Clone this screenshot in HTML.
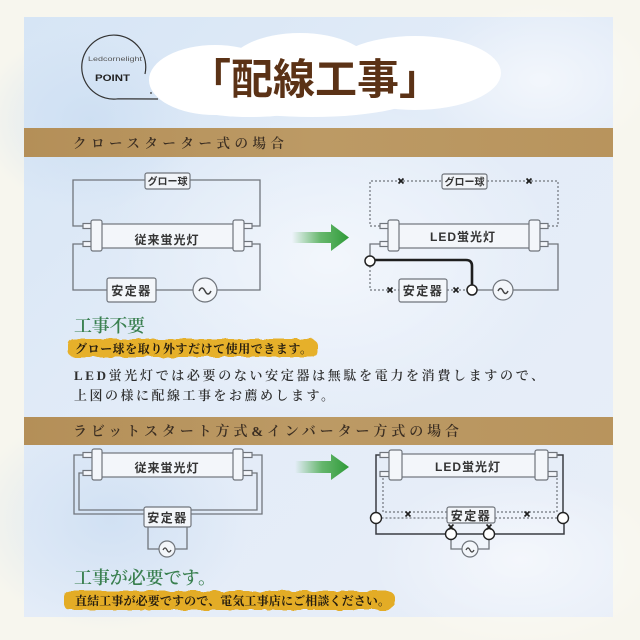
<!DOCTYPE html>
<html><head><meta charset="utf-8"><style>
html,body{margin:0;padding:0;background:#f7f6ee;}
svg{display:block;}
.jp{font-family:"Liberation Sans","Noto Sans CJK JP",sans-serif;font-weight:700;fill:#333;}
.sf{font-family:"Liberation Serif","Noto Serif CJK SC",serif;}
</style></head><body>
<svg width="640" height="640" viewBox="0 0 640 640" xmlns="http://www.w3.org/2000/svg">
<defs>
<linearGradient id="bg" x1="0" y1="0" x2="1" y2="1">
<stop offset="0" stop-color="#d6e5f5"/><stop offset="0.45" stop-color="#e3ecf8"/><stop offset="1" stop-color="#e8eef8"/>
</linearGradient>
<radialGradient id="p1" cx="0.5" cy="0.5" r="0.5"><stop offset="0" stop-color="#ffffff" stop-opacity="0.55"/><stop offset="1" stop-color="#ffffff" stop-opacity="0"/></radialGradient>
<radialGradient id="p2" cx="0.5" cy="0.5" r="0.5"><stop offset="0" stop-color="#c9dcf1" stop-opacity="0.7"/><stop offset="1" stop-color="#c9dcf1" stop-opacity="0"/></radialGradient>
<linearGradient id="ag" x1="0" x2="1" y1="0" y2="0">
<stop offset="0" stop-color="#45a84a" stop-opacity="0"/><stop offset="0.5" stop-color="#45a84a" stop-opacity="0.8"/><stop offset="1" stop-color="#2e9a37"/>
</linearGradient>
<linearGradient id="band" x1="0" x2="1" y1="0" y2="0">
<stop offset="0" stop-color="#b48f58"/><stop offset="0.5" stop-color="#bc9a65"/><stop offset="1" stop-color="#b8945d"/>
</linearGradient>
<filter id="brush" x="-5%" y="-40%" width="110%" height="180%">
<feTurbulence type="fractalNoise" baseFrequency="0.09" numOctaves="2" seed="4"/>
<feDisplacementMap in="SourceGraphic" scale="5"/>
</filter>
</defs>

<rect width="640" height="640" fill="#f7f6ee"/>
<rect x="24" y="17" width="589" height="600" fill="url(#bg)"/>
<ellipse cx="330" cy="260" rx="230" ry="160" fill="url(#p1)"/>
<ellipse cx="520" cy="560" rx="150" ry="90" fill="url(#p1)"/>
<ellipse cx="540" cy="80" rx="120" ry="80" fill="url(#p1)"/>
<ellipse cx="110" cy="520" rx="140" ry="110" fill="url(#p2)"/>
<ellipse cx="90" cy="120" rx="110" ry="90" fill="url(#p2)"/>

<!-- logo -->
<path d="M145 74 A32 32 0 1 0 118 98.8 L158 99" fill="none" stroke="#333" stroke-width="1.2"/>
<circle cx="151" cy="93" r="0.9" fill="#333"/>
<text x="88" y="61" font-family="Liberation Sans, sans-serif" font-size="6" fill="#555" textLength="54" lengthAdjust="spacingAndGlyphs">Ledcornelight</text>
<text x="95" y="81" font-family="Liberation Sans, sans-serif" font-size="9" font-weight="700" fill="#222" textLength="35" lengthAdjust="spacingAndGlyphs">POINT</text>

<!-- cloud -->
<g fill="#ffffff">
<ellipse cx="215" cy="80" rx="66" ry="35"/>
<ellipse cx="300" cy="68" rx="72" ry="35"/>
<ellipse cx="415" cy="73" rx="86" ry="37"/>
<ellipse cx="312" cy="92" rx="112" ry="25"/>
<ellipse cx="250" cy="95" rx="80" ry="22"/>
</g>
<text x="315" y="94" text-anchor="middle" font-family="Liberation Sans, 'Noto Sans CJK JP', sans-serif" font-weight="700" font-size="42" fill="#5b3216">「配線工事」</text>

<!-- band 1 -->
<rect x="24" y="128" width="589" height="29" fill="url(#band)"/>
<text class="sf" x="73" y="148" font-size="13.5" font-weight="600" fill="#3b2e22" textLength="211" lengthAdjust="spacing">クロースターター式の場合</text>

<!-- ===== Diagram 1 left ===== -->
<g fill="none" stroke="#70757c" stroke-width="1.3">
<path d="M83 226 H73 V180 H145 M190 180 H260 V226 H252"/>
<path d="M83 244 H73 V290 H107 M156 290 H193 M217 290 H260 V244 H252"/>
</g>
<rect x="145" y="173" width="45" height="16" rx="2" fill="#f1f4f8" stroke="#70757c" stroke-width="1.2"/>
<text class="jp" x="167.5" y="185" font-size="10" text-anchor="middle">グロー球</text>
<g stroke="#70757c" stroke-width="1.2" fill="#f3f6fa">
<rect x="83" y="223.5" width="9" height="5"/><rect x="83" y="241.5" width="9" height="5"/>
<rect x="243" y="223.5" width="9" height="5"/><rect x="243" y="241.5" width="9" height="5"/>
<rect x="100" y="224" width="135" height="24"/>
<rect x="91" y="220" width="11" height="31" rx="2"/>
<rect x="233" y="220" width="11" height="31" rx="2"/>
<rect x="107" y="278" width="49" height="24" rx="2"/>
<circle cx="205" cy="290" r="12"/>
</g>
<text class="jp" x="167" y="244" font-size="12" text-anchor="middle" letter-spacing="1">従来蛍光灯</text>
<text class="jp" x="131.5" y="295" font-size="12" text-anchor="middle" letter-spacing="1.5">安定器</text>
<path d="M199 291 q3 -6 6 0 t6 0" fill="none" stroke="#444" stroke-width="1.5"/>

<!-- arrow 1 -->
<polygon points="292,232 331,232 331,224 349,237.5 331,251 331,243 292,243" fill="url(#ag)"/>

<!-- ===== Diagram 1 right ===== -->
<g fill="none" stroke="#70757c" stroke-width="1.2" stroke-dasharray="2 2">
<path d="M380 226 H370 V181 H442 M487 181 H558 V226 H548"/>
<path d="M370 266 V290 H399 M447 290 H467"/>
</g>
<g fill="none" stroke="#70757c" stroke-width="1.3">
<path d="M380 244 H370 V256"/>
<path d="M477 290 H493 M513 290 H558 V244 H548"/>
</g>
<path d="M375 260 H466 Q472 260 472 266 V285" fill="none" stroke="#1e1e1e" stroke-width="2.6"/>
<rect x="442" y="174" width="45" height="15" rx="2" fill="#f1f4f8" stroke="#70757c" stroke-width="1.2"/>
<text class="jp" x="464.5" y="185.5" font-size="10" text-anchor="middle">グロー球</text>
<g stroke="#70757c" stroke-width="1.2" fill="#f3f6fa">
<rect x="380" y="223.5" width="9" height="5"/><rect x="380" y="241.5" width="9" height="5"/>
<rect x="539" y="223.5" width="9" height="5"/><rect x="539" y="241.5" width="9" height="5"/>
<rect x="397" y="224" width="134" height="24"/>
<rect x="388" y="220" width="11" height="31" rx="2"/>
<rect x="529" y="220" width="11" height="31" rx="2"/>
<rect x="399" y="279" width="48" height="23" rx="2"/>
<circle cx="503" cy="290" r="10"/>
</g>
<g fill="#fff" stroke="#222" stroke-width="1.5">
<circle cx="370" cy="261" r="5"/>
<circle cx="472" cy="290" r="5"/>
</g>
<text class="jp" x="463" y="241" font-size="12" text-anchor="middle" letter-spacing="1">LED蛍光灯</text>
<text class="jp" x="423" y="295" font-size="12" text-anchor="middle" letter-spacing="1.5">安定器</text>
<path d="M498 291 q2.5 -5 5 0 t5 0" fill="none" stroke="#444" stroke-width="1.5"/>
<g stroke="#1e1e1e" stroke-width="1.7">
<path d="M398.5 178.5 l5 5 M403.5 178.5 l-5 5"/>
<path d="M526.5 178.5 l5 5 M531.5 178.5 l-5 5"/>
<path d="M387.5 287.5 l5 5 M392.5 287.5 l-5 5"/>
<path d="M453.5 287.5 l5 5 M458.5 287.5 l-5 5"/>
</g>

<!-- texts section 1 -->
<text class="sf" x="74" y="332" font-size="18" font-weight="600" fill="#3a8050" textLength="71" lengthAdjust="spacing">工事不要</text>
<rect x="68" y="339" width="249" height="18" rx="6" fill="#e6b02c" filter="url(#brush)"/>
<text class="sf" x="75" y="353" font-size="12" font-weight="700" fill="#241c10" textLength="237" lengthAdjust="spacing">グロー球を取り外すだけて使用できます。</text>
<text class="sf" x="74" y="380" font-size="13" font-weight="600" fill="#2e2e2e" textLength="470" lengthAdjust="spacing">LED蛍光灯では必要のない安定器は無駄を電力を消費しますので、</text>
<text class="sf" x="74" y="400" font-size="13" font-weight="600" fill="#2e2e2e" textLength="260" lengthAdjust="spacing">上図の様に配線工事をお薦めします。</text>

<!-- band 2 -->
<rect x="24" y="417" width="589" height="28" fill="url(#band)"/>
<text class="sf" x="73" y="436" font-size="14" font-weight="600" fill="#3b2e22" textLength="386" lengthAdjust="spacing">ラビットスタート方式&amp;インバーター方式の場合</text>

<!-- ===== Diagram 2 left ===== -->
<g fill="none" stroke="#70757c" stroke-width="1.3">
<path d="M83 455 H74 V514 H144 M83 473 H79 V510 H144"/>
<path d="M252 455 H262 V514 H191 M252 473 H257 V510 H191"/>
<path d="M148 527 V549 H159 M175 549 H187 V527"/>
</g>
<g stroke="#70757c" stroke-width="1.2" fill="#f3f6fa">
<rect x="83" y="452.5" width="9" height="5"/><rect x="83" y="470.5" width="9" height="5"/>
<rect x="243" y="452.5" width="9" height="5"/><rect x="243" y="470.5" width="9" height="5"/>
<rect x="100" y="453" width="135" height="24"/>
<rect x="92" y="449" width="10" height="31" rx="2"/>
<rect x="233" y="449" width="10" height="31" rx="2"/>
<rect x="144" y="507" width="47" height="20" rx="2"/>
<circle cx="167" cy="549" r="8"/>
</g>
<text class="jp" x="167" y="472" font-size="12" text-anchor="middle" letter-spacing="1">従来蛍光灯</text>
<text class="jp" x="167.5" y="522" font-size="12" text-anchor="middle" letter-spacing="1.5">安定器</text>
<path d="M163 550 q2 -4 4 0 t4 0" fill="none" stroke="#444" stroke-width="1.3"/>

<!-- arrow 2 -->
<polygon points="295,461 331,461 331,454 349,467 331,480 331,473 295,473" fill="url(#ag)"/>

<!-- ===== Diagram 2 right ===== -->
<g fill="none" stroke="#70757c" stroke-width="1.2" stroke-dasharray="2 2">
<path d="M383 474 V512 H447 M381.5 518 H447"/>
<path d="M557 474 V512 H495 M495 518 H557.5"/>
</g>
<g fill="none" stroke="#3a3d42" stroke-width="1.5">
<path d="M383 455 H376 V512.5"/>
<path d="M376 523.5 V534 H446 M456.5 534 H484 M494.5 534 H564 V523.5"/>
<path d="M563 512.5 V455 H557"/>
</g>
<g fill="none" stroke="#70757c" stroke-width="1.3">
<path d="M451 539 V549 H462 M478 549 H489 V539"/>
</g>
<g stroke="#70757c" stroke-width="1.2" fill="#f3f6fa">
<rect x="380" y="452.5" width="9" height="5"/><rect x="380" y="471.5" width="9" height="5"/>
<rect x="548" y="452.5" width="9" height="5"/><rect x="548" y="471.5" width="9" height="5"/>
<rect x="400" y="454" width="137" height="23"/>
<rect x="389" y="450" width="13" height="30" rx="2"/>
<rect x="535" y="450" width="13" height="30" rx="2"/>
<rect x="447" y="507" width="48" height="16" rx="2"/>
<circle cx="470" cy="549" r="8"/>
</g>
<g fill="#fff" stroke="#222" stroke-width="1.4">
<circle cx="376" cy="518" r="5.5"/>
<circle cx="563" cy="518" r="5.5"/>
<circle cx="451" cy="534" r="5.5"/>
<circle cx="489" cy="534" r="5.5"/>
</g>
<text class="jp" x="468" y="471" font-size="12" text-anchor="middle" letter-spacing="1">LED蛍光灯</text>
<text class="jp" x="471" y="520" font-size="12" text-anchor="middle" letter-spacing="1.5">安定器</text>
<path d="M466 550 q2 -4 4 0 t4 0" fill="none" stroke="#444" stroke-width="1.3"/>
<g stroke="#1e1e1e" stroke-width="1.6">
<path d="M405.5 511.5 l5 5 M410.5 511.5 l-5 5"/>
<path d="M524.5 511.5 l5 5 M529.5 511.5 l-5 5"/>
<path d="M448.5 524.5 l5 5 M453.5 524.5 l-5 5"/>
<path d="M486.5 524.5 l5 5 M491.5 524.5 l-5 5"/>
</g>

<!-- texts section 2 -->
<text class="sf" x="74" y="584" font-size="18" font-weight="600" fill="#3a8050" textLength="142" lengthAdjust="spacing">工事が必要です。</text>
<rect x="64" y="591" width="330" height="19" rx="6" fill="#e3ac28" filter="url(#brush)"/>
<text class="sf" x="75" y="605" font-size="12" font-weight="700" fill="#241c10" textLength="315" lengthAdjust="spacing">直結工事が必要ですので、電気工事店にご相談ください。</text>
</svg>
</body></html>
